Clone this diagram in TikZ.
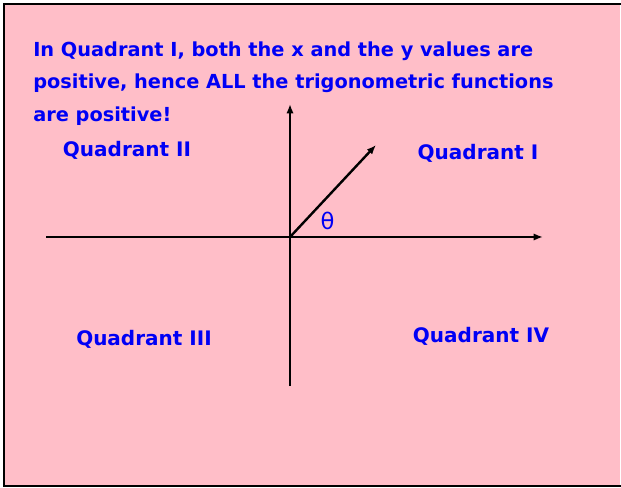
\documentclass[tikz,border=0pt]{standalone}
\usepackage{fontspec}
\setmainfont{DejaVu Sans}
\usetikzlibrary{arrows.meta}
\definecolor{SlideClr}{RGB}{255,190,200}
\definecolor{TextClr}{RGB}{0,0,245}

\begin{document}
\begin{tikzpicture}[x=0.75pt,y=-0.75pt,
  axis/.style={line width=1.8pt,color=black,-{Latex[length=7pt,width=5.5pt]}},
  quadlabel/.style={anchor=base,inner sep=0pt,text=TextClr,font=\fontsize{15}{17}\selectfont\bfseries},
  heading/.style={anchor=base west,inner sep=0pt,text=TextClr,font=\fontsize{14.5}{17}\selectfont\bfseries}]
\useasboundingbox (0,0) rectangle (621,488);
\fill[white] (0,0) rectangle (621,488);
\fill[SlideClr] (4,4) rectangle (620,486);
\draw[line width=2pt] (621,4) -- (4,4) -- (4,486) -- (621,486);

% the text at the top
\node[heading] (line1) at (33,57) {In Quadrant I, both the x and the y values are};
\node[heading] (line2) at (33,89) {positive, hence ALL the trigonometric functions};
\node[heading] (line3) at (33,122) {are positive!};

% the axes and the ray
\coordinate (origin) at (290,237);
\coordinate (xneg) at (46,237);
\coordinate (xpos) at (543,237);
\coordinate (ytop) at (290,104);
\coordinate (ybot) at (290,386);
\coordinate (rayend) at (376,145);

\draw[axis] (xneg) -- (xpos);
\draw[axis] (ybot) -- (ytop);
\draw[axis] (origin) -- (rayend);

\node[text=TextClr,font=\fontsize{17}{19}\selectfont,inner sep=0pt] (theta) at (327.5,221) {θ};

% the four quadrants
\node[quadlabel] (quadI) at (478,160) {Quadrant I};
\node[quadlabel] (quadII) at (127,157) {Quadrant II};
\node[quadlabel] (quadIII) at (144,345) {Quadrant III};
\node[quadlabel] (quadIV) at (481,342) {Quadrant IV};

\end{tikzpicture}
\end{document}
